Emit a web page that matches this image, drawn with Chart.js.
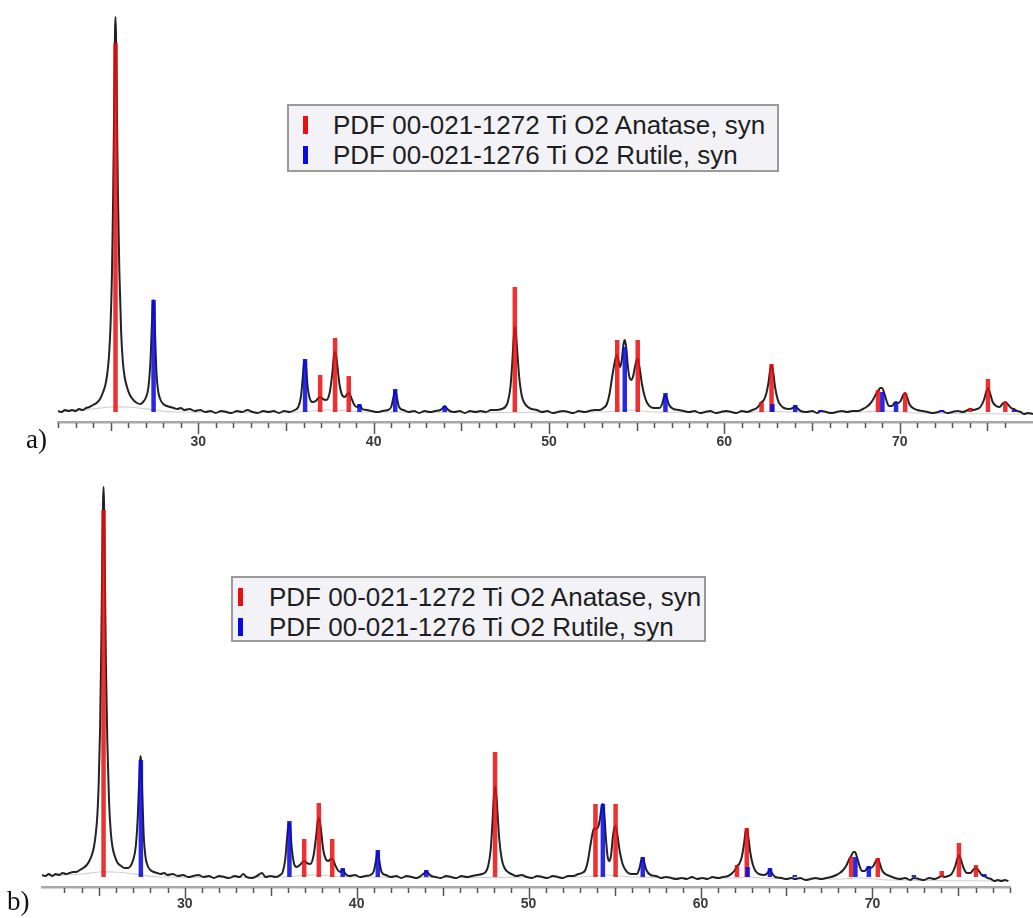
<!DOCTYPE html>
<html><head><meta charset="utf-8">
<script src="https://cdn.jsdelivr.net/npm/chart.js@4.4.1/dist/chart.umd.min.js"></script>
<style>
html,body{margin:0;padding:0;background:#fff;}
#wrap{position:relative;width:1033px;height:918px;overflow:hidden;}
canvas{position:absolute;left:0;}
.lg{position:absolute;box-sizing:border-box;border:2px solid #9a9a9a;background:#f3f3f7;}
.row{position:absolute;left:0;right:0;height:30px;font-family:"Liberation Sans",Arial,sans-serif;font-size:26px;color:#1e1e1e;line-height:30px;white-space:nowrap;}
.sw{position:absolute;width:5px;height:18px;top:6px;}
.tx{position:absolute;top:0;}
.pl{position:absolute;font-family:"Liberation Serif","Times New Roman",serif;font-size:27px;color:#111;}
</style></head>
<body><div id="wrap">
<canvas id="ca" width="1033" height="460" style="top:0"></canvas>
<canvas id="cb" width="1033" height="453" style="top:465px"></canvas>
<div class="pl" style="left:26px;top:424px">a)</div>
<div class="pl" style="left:7px;top:886px">b)</div>
</div>
<script>
// ---- data ----
const legendLabels = ["PDF 00-021-1272 Ti O2 Anatase, syn", "PDF 00-021-1276 Ti O2 Rutile, syn"];
const tickLabelValues = [30, 40, 50, 60, 70];

// Anatase (red) reference lines: 2theta positions and heights
const anatasePos = [25.28, 36.95, 37.80, 38.58, 48.05, 53.89, 55.06, 62.12, 62.69, 68.76, 70.31, 74.03, 75.03, 76.02];
const anataseHA  = [369, 37, 74, 36, 125, 72, 72, 10, 48, 22, 19, 4, 33, 10];
const anataseHB  = [367, 38, 74, 38, 125, 73, 73, 12, 49, 20, 19, 6, 34, 12];
// Rutile (blue) reference lines
const rutilePos = [27.45, 36.09, 39.19, 41.23, 44.05, 54.32, 56.64, 62.74, 64.04, 65.48, 69.01, 69.79, 72.41, 76.51];
const rutileHA  = [112, 53, 8, 23, 6, 65, 19, 8, 7, 2, 20, 10, 2, 2];
const rutileHB  = [117, 56, 9, 27, 7, 73, 20, 10, 9, 2, 20, 11, 2, 3];

// measured pattern a) [2theta, intensity]
const scanA = [[22.0,1],[22.2,0],[22.4,2],[22.6,1],[22.8,2],[23.0,1],[23.2,3],[23.4,2],[23.6,4],[23.8,5],[24.0,7],[24.2,9],[24.4,13],[24.55,19],[24.7,27],[24.8,37],[24.9,54],[25.0,88],[25.08,140],[25.14,210],[25.2,300],[25.25,380],[25.28,395],[25.31,375],[25.36,300],[25.42,215],[25.5,140],[25.6,80],[25.7,50],[25.8,35],[25.95,24],[26.1,17],[26.3,12],[26.5,9],[26.7,8],[26.85,10],[27.0,14],[27.15,24],[27.27,50],[27.36,90],[27.42,112],[27.47,108],[27.54,75],[27.62,38],[27.72,20],[27.85,12],[28.0,8],[28.2,6],[28.4,5],[28.6,4],[28.8,3],[29.0,4],[29.2,2],[29.5,3],[29.8,1],[30.1,2],[30.4,0],[30.7,1],[31.0,-1],[31.3,1],[31.6,0],[31.9,-1],[32.2,1],[32.5,0],[32.8,2],[33.1,0],[33.4,-1],[33.7,1],[34.0,0],[34.3,1],[34.6,-1],[34.9,1],[35.2,0],[35.5,2],[35.7,5],[35.85,15],[35.95,33],[36.05,52],[36.12,50],[36.22,28],[36.35,14],[36.5,10],[36.7,11],[36.85,14],[36.95,15],[37.1,13],[37.3,12],[37.5,20],[37.65,40],[37.75,58],[37.82,60],[37.92,48],[38.05,28],[38.2,17],[38.35,15],[38.5,18],[38.6,19],[38.75,13],[38.9,7],[39.05,5],[39.19,7],[39.35,3],[39.6,2],[39.9,1],[40.2,0],[40.5,1],[40.8,2],[41.0,5],[41.12,14],[41.23,22],[41.33,14],[41.45,5],[41.7,2],[42.0,0],[42.3,1],[42.6,-1],[42.9,1],[43.2,0],[43.5,1],[43.8,2],[43.95,4],[44.05,6],[44.15,4],[44.35,1],[44.6,0],[44.9,1],[45.2,-1],[45.5,1],[45.8,0],[46.1,1],[46.4,0],[46.7,2],[47.0,2],[47.3,3],[47.5,5],[47.65,10],[47.8,25],[47.9,48],[47.98,72],[48.05,85],[48.12,78],[48.2,58],[48.3,35],[48.45,16],[48.6,9],[48.8,5],[49.0,3],[49.3,2],[49.6,0],[49.9,1],[50.2,-1],[50.5,0],[50.8,1],[51.1,0],[51.4,-1],[51.7,1],[52.0,0],[52.3,1],[52.6,2],[52.9,2],[53.1,4],[53.3,8],[53.45,18],[53.6,35],[53.75,50],[53.85,57],[53.95,52],[54.05,45],[54.15,52],[54.25,68],[54.32,72],[54.4,65],[54.5,45],[54.6,34],[54.7,32],[54.8,36],[54.9,45],[55.0,52],[55.06,53],[55.15,46],[55.3,28],[55.45,16],[55.6,9],[55.8,5],[56.0,4],[56.3,4],[56.45,8],[56.56,15],[56.64,17],[56.72,14],[56.85,7],[57.1,3],[57.4,2],[57.7,1],[58.0,0],[58.3,1],[58.6,-1],[58.9,0],[59.2,1],[59.5,-1],[59.8,0],[60.1,1],[60.4,0],[60.7,-1],[61.0,1],[61.3,0],[61.6,2],[61.85,4],[62.0,7],[62.12,10],[62.25,12],[62.4,19],[62.52,30],[62.62,43],[62.69,47],[62.78,40],[62.9,24],[63.05,12],[63.2,7],[63.4,4],[63.7,3],[63.9,4],[64.04,6],[64.15,4],[64.35,1],[64.7,0],[65.0,1],[65.3,-1],[65.5,1],[65.8,0],[66.1,-1],[66.4,0],[66.7,1],[67.0,0],[67.3,1],[67.6,1],[67.9,3],[68.1,5],[68.3,8],[68.5,13],[68.65,18],[68.76,21],[68.9,24],[69.0,24],[69.1,20],[69.25,11],[69.4,6],[69.55,6],[69.7,9],[69.79,10],[69.9,9],[70.05,11],[70.2,17],[70.31,19],[70.42,15],[70.55,8],[70.75,4],[71.0,2],[71.3,1],[71.6,0],[71.9,-1],[72.2,0],[72.4,1],[72.7,-1],[73.0,0],[73.3,1],[73.6,0],[73.9,2],[74.03,3],[74.2,2],[74.4,3],[74.6,5],[74.8,12],[74.93,20],[75.03,24],[75.13,20],[75.3,10],[75.5,6],[75.7,5],[75.85,8],[76.02,10],[76.15,8],[76.35,4],[76.51,3],[76.7,1],[76.9,0],[77.1,-2],[77.3,-1],[77.6,-2]];

// measured pattern b)
const scanB = [[21.7,2],[21.9,1],[22.1,3],[22.3,1],[22.5,3],[22.7,2],[22.9,4],[23.1,3],[23.3,4],[23.5,5],[23.7,5],[23.9,7],[24.1,9],[24.3,12],[24.45,16],[24.6,22],[24.72,30],[24.82,42],[24.92,62],[25.0,95],[25.08,150],[25.14,220],[25.2,310],[25.25,375],[25.28,390],[25.31,372],[25.36,300],[25.42,210],[25.5,135],[25.6,75],[25.7,45],[25.8,30],[25.95,20],[26.1,14],[26.3,11],[26.5,9],[26.7,9],[26.85,11],[27.0,17],[27.15,30],[27.27,60],[27.36,100],[27.42,121],[27.47,115],[27.54,80],[27.62,40],[27.72,20],[27.85,11],[28.0,7],[28.2,5],[28.4,4],[28.6,3],[28.8,4],[29.0,2],[29.3,3],[29.6,1],[29.9,2],[30.2,0],[30.5,1],[30.8,2],[31.1,0],[31.4,1],[31.7,-1],[32.0,1],[32.3,0],[32.6,-1],[32.9,1],[33.2,0],[33.4,3],[33.6,0],[33.9,-1],[34.2,1],[34.5,4],[34.7,0],[35.0,1],[35.3,0],[35.55,2],[35.7,5],[35.85,18],[35.95,38],[36.05,54],[36.12,52],[36.22,30],[36.35,14],[36.5,10],[36.7,12],[36.85,15],[36.95,16],[37.1,14],[37.3,13],[37.5,22],[37.65,42],[37.75,57],[37.82,59],[37.92,48],[38.05,28],[38.2,18],[38.35,16],[38.5,18],[38.6,18],[38.75,12],[38.9,7],[39.05,5],[39.19,8],[39.35,3],[39.6,1],[39.9,2],[40.2,0],[40.5,1],[40.8,2],[41.0,6],[41.12,16],[41.23,26],[41.33,15],[41.45,5],[41.7,2],[42.0,0],[42.3,1],[42.6,-1],[42.9,1],[43.2,0],[43.5,-1],[43.8,2],[43.95,4],[44.05,6],[44.15,4],[44.35,1],[44.6,0],[44.9,-1],[45.2,1],[45.5,0],[45.8,-1],[46.1,1],[46.4,0],[46.7,1],[47.0,2],[47.3,3],[47.5,5],[47.65,11],[47.8,28],[47.9,55],[47.98,80],[48.05,91],[48.12,83],[48.2,62],[48.3,37],[48.45,17],[48.6,9],[48.8,5],[49.0,3],[49.3,1],[49.6,2],[49.9,0],[50.2,-1],[50.5,1],[50.8,0],[51.1,-1],[51.4,1],[51.7,0],[52.0,-1],[52.3,1],[52.6,1],[52.9,3],[53.1,4],[53.3,7],[53.45,16],[53.6,32],[53.75,46],[53.85,49],[53.95,48],[54.05,50],[54.15,58],[54.25,70],[54.32,73],[54.4,64],[54.5,38],[54.6,20],[54.7,16],[54.8,22],[54.9,40],[55.0,50],[55.06,51],[55.15,44],[55.3,26],[55.45,14],[55.6,8],[55.8,4],[56.0,3],[56.3,3],[56.45,9],[56.56,17],[56.64,19],[56.72,15],[56.85,7],[57.1,2],[57.4,1],[57.7,-1],[58.0,0],[58.3,-1],[58.6,-2],[58.9,-1],[59.2,-2],[59.5,0],[59.8,-2],[60.1,-1],[60.4,-2],[60.7,0],[61.0,-1],[61.3,0],[61.6,1],[61.85,4],[62.0,7],[62.12,11],[62.25,13],[62.4,20],[62.52,32],[62.62,45],[62.69,48],[62.78,40],[62.9,24],[63.05,12],[63.2,6],[63.4,3],[63.7,2],[63.9,4],[64.04,8],[64.15,4],[64.35,0],[64.7,-1],[65.0,-2],[65.3,-1],[65.5,-2],[65.8,-1],[66.1,-3],[66.4,-2],[66.7,-1],[67.0,-2],[67.3,-1],[67.6,0],[67.9,2],[68.1,4],[68.3,7],[68.5,12],[68.65,18],[68.76,21],[68.9,25],[68.98,25],[69.1,20],[69.25,11],[69.4,6],[69.55,6],[69.7,9],[69.79,10],[69.9,9],[70.05,11],[70.2,16],[70.31,18],[70.42,14],[70.55,7],[70.75,3],[71.0,1],[71.3,-1],[71.6,-2],[71.9,-1],[72.2,-3],[72.4,-1],[72.7,-2],[73.0,-3],[73.3,-1],[73.6,-2],[73.9,0],[74.03,1],[74.2,0],[74.4,1],[74.6,3],[74.8,10],[74.93,18],[75.03,22],[75.13,18],[75.3,9],[75.5,4],[75.7,4],[75.85,7],[76.02,9],[76.15,7],[76.35,2],[76.51,1],[76.7,-1],[76.9,-2],[77.1,-4],[77.3,-3],[77.5,-4],[77.7,-3],[77.9,-4]];

// fitted background curves (light grey)
const bgA = [[22,0],[23,1],[24,3],[25,5],[25.8,5],[26.6,4],[27.5,2],[28.5,0],[35.5,0],[37.5,2],[39.5,0],[53,0],[54.5,2],[56,0],[62,0],[62.7,1],[63.5,0],[68,0],[69.3,1],[71,-1],[77.6,-2]];
const bgB = [[21.7,1],[23,2],[24,3],[25,5],[25.8,5],[26.6,4],[27.5,2],[28.5,0],[35.5,0],[37.5,2],[39.5,0],[53,0],[54.5,2],[56,0],[62,-1],[62.7,0],[63.5,-1],[68,-2],[69.3,-1],[71,-3],[78,-4]];

// ---- chart construction ----
function sticks(pos, h){
  const d = [];
  pos.forEach((p,i)=>{ d.push({x:p,y:0}); d.push({x:p,y:h[i]}); d.push({x:p,y:null}); });
  return d;
}
const toXY = arr => arr.map(p=>({x:p[0], y:p[1]}));

const tickPlugin = {
  id:'xrdTicks',
  afterDraw(chart){
    const s = chart.scales.x, ctx = chart.ctx;
    ctx.save(); ctx.strokeStyle = '#555'; ctx.lineWidth = 1.5;
    s.ticks.forEach(t=>{
      const v = t.value;
      if (Math.abs(v - Math.round(v)) > 1e-6) return;
      const r = Math.round(v);
      const len = r % 10 === 0 ? 11 : (r % 5 === 0 ? 8 : 5);
      const px = Math.round(s.getPixelForValue(r)) + 0.5;
      ctx.beginPath(); ctx.moveTo(px, s.top + 1); ctx.lineTo(px, s.top + 1 + len); ctx.stroke();
    });
    ctx.restore();
  }
};

function makeChart(id, scan, bg, aH, rH, xmin, xmax, padL, padR, axisH, labPad){
  return new Chart(document.getElementById(id), {
    type:'line',
    data:{ datasets:[
      {label:'background', data:toXY(bg), borderColor:'#cfcfcf', borderWidth:1.2, pointRadius:0, tension:0.4, order:3},
      {label:'scan', data:toXY(scan), borderColor:'rgba(22,22,22,0.95)', borderWidth:2, pointRadius:0, cubicInterpolationMode:'monotone', order:2},
      {label:legendLabels[0], data:sticks(anatasePos, aH), borderColor:'rgba(236,12,12,0.85)', borderWidth:4.5, borderCapStyle:'butt', pointRadius:0, spanGaps:false, order:1},
      {label:legendLabels[1], data:sticks(rutilePos, rH), borderColor:'rgba(10,10,225,0.88)', borderWidth:4.5, borderCapStyle:'butt', pointRadius:0, spanGaps:false, order:0}
    ]},
    options:{
      responsive:false, animation:false, events:[],
      layout:{padding:{left:padL, right:padR, top:10, bottom:0}},
      plugins:{legend:{display:false}, tooltip:{enabled:false}},
      scales:{
        x:{type:'linear', min:xmin, max:xmax,
           afterFit(s){ s.height = axisH; s.paddingLeft = 0; s.paddingRight = 0; },
           border:{display:true, color:'#a8a8a8', width:2.5},
           grid:{display:false, drawTicks:false},
           ticks:{stepSize:1, autoSkip:false, maxRotation:0, padding:labPad, color:'#3a3a3a',
                  font:{family:'"Liberation Sans", Arial, sans-serif', size:14, weight:'bold'},
                  callback:(v)=> tickLabelValues.includes(v) ? String(v) : ''}},
        y:{display:false, min:-10, max:402}
      }
    },
    plugins:[tickPlugin]
  });
}

makeChart('ca', scanA, bgA, anataseHA, rutileHA, 22, 77.6, 58, 0, 38, 12);
makeChart('cb', scanB, bgB, anataseHB, rutileHB, 21.7, 78, 42, 23, 31, 9);

// ---- legends (HTML text) ----
function legend(left, top, w, h, swL, txL){
  const box = document.createElement('div');
  box.className = 'lg';
  Object.assign(box.style, {left:left+'px', top:top+'px', width:w+'px', height:h+'px'});
  const cols = ['#e81010', '#0a0ae0'];
  legendLabels.forEach((t,i)=>{
    const r = document.createElement('div'); r.className='row'; r.style.top = (4 + i*30) + 'px';
    const s = document.createElement('div'); s.className='sw'; s.style.left = swL+'px'; s.style.background = cols[i];
    const x = document.createElement('div'); x.className='tx'; x.style.left = txL+'px'; x.textContent = t;
    r.appendChild(s); r.appendChild(x); box.appendChild(r);
  });
  document.getElementById('wrap').appendChild(box);
}
legend(287, 104, 492, 68, 14, 44);
legend(231, 576, 475, 66, 5, 36);
</script>
</body></html>
